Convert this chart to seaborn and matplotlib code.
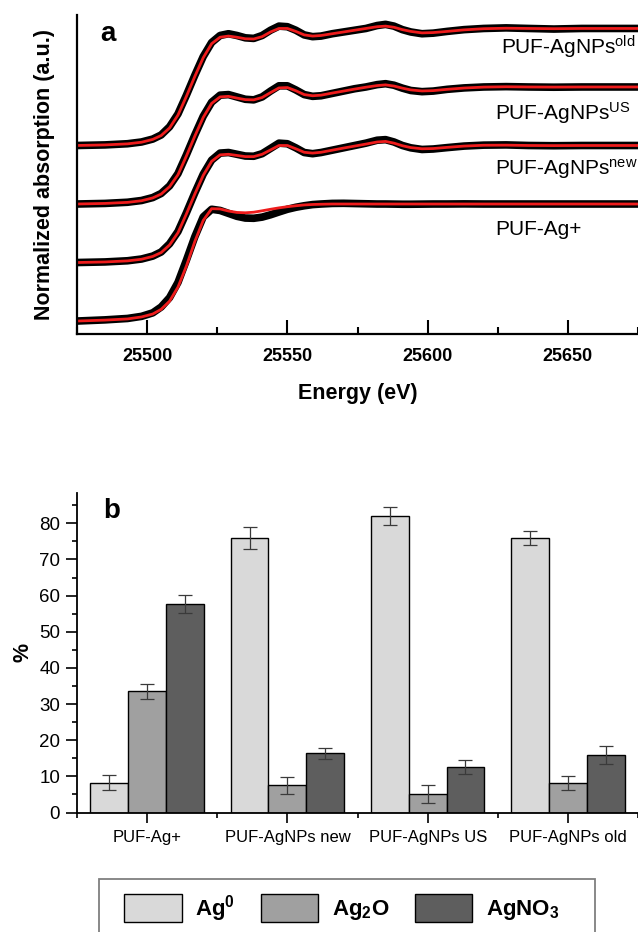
import numpy as np
import pandas as pd
import matplotlib
matplotlib.use("Agg")
import matplotlib.pyplot as plt
from matplotlib.patches import Patch, Rectangle
from matplotlib.ticker import MultipleLocator
import seaborn as sns

# ---------------- data: panel a (XANES, normalized absorption) ----------------
energy = [25475, 25485, 25493, 25498, 25502, 25505, 25508, 25511, 25514, 25517,
          25520, 25523, 25526, 25529, 25532, 25535, 25538, 25541, 25544, 25547,
          25550, 25553, 25556, 25559, 25562, 25566, 25570, 25574, 25578, 25582,
          25585, 25588, 25591, 25594, 25598, 25602, 25607, 25613, 25620, 25628,
          25636, 25645, 25655, 25665, 25675]

ag_plus_data = [0.000, 0.010, 0.022, 0.040, 0.070, 0.120, 0.200, 0.330, 0.520, 0.720,
                0.890, 0.955, 0.945, 0.920, 0.895, 0.880, 0.878, 0.888, 0.908, 0.932,
                0.955, 0.972, 0.985, 0.995, 1.000, 1.005, 1.006, 1.004, 1.002, 1.000,
                1.000, 0.999, 0.998, 0.998, 0.999, 1.000, 1.000, 1.001, 1.000, 1.000,
                1.000, 1.000, 1.000, 1.000, 1.000]
ag_plus_fit = [0.000, 0.008, 0.018, 0.035, 0.060, 0.100, 0.170, 0.290, 0.470, 0.680,
               0.860, 0.960, 0.958, 0.940, 0.928, 0.925, 0.930, 0.942, 0.955, 0.967,
               0.977, 0.985, 0.992, 0.996, 0.998, 1.000, 1.000, 1.000, 1.000, 1.000,
               1.000, 1.000, 1.000, 1.000, 1.000, 1.000, 1.000, 1.000, 1.000, 1.000,
               1.000, 1.000, 1.000, 1.000, 1.000]

new_data = [0.000, 0.005, 0.015, 0.030, 0.055, 0.090, 0.160, 0.265, 0.425, 0.595,
            0.755, 0.875, 0.935, 0.940, 0.925, 0.910, 0.908, 0.930, 0.975, 1.020,
            1.015, 0.980, 0.940, 0.930, 0.940, 0.960, 0.980, 1.000, 1.020, 1.045,
            1.050, 1.030, 1.000, 0.980, 0.966, 0.970, 0.982, 0.995, 1.003, 1.005,
            1.000, 0.998, 1.000, 1.000, 1.000]
new_fit = [0.000, 0.005, 0.014, 0.028, 0.052, 0.085, 0.150, 0.255, 0.415, 0.585,
           0.745, 0.865, 0.920, 0.925, 0.915, 0.905, 0.905, 0.925, 0.962, 1.000,
           1.000, 0.972, 0.942, 0.935, 0.942, 0.960, 0.978, 0.995, 1.012, 1.030,
           1.035, 1.020, 0.998, 0.982, 0.972, 0.974, 0.984, 0.995, 1.002, 1.003,
           1.000, 0.999, 1.000, 1.000, 1.000]

us_data = [0.000, 0.005, 0.015, 0.030, 0.055, 0.090, 0.155, 0.260, 0.420, 0.590,
           0.750, 0.870, 0.930, 0.935, 0.915, 0.895, 0.890, 0.915, 0.965, 1.010,
           1.010, 0.975, 0.935, 0.920, 0.925, 0.945, 0.965, 0.985, 1.000, 1.020,
           1.028, 1.015, 0.990, 0.970, 0.960, 0.965, 0.980, 0.992, 1.000, 1.003,
           1.000, 0.998, 1.000, 1.000, 1.000]
us_fit = [0.000, 0.005, 0.014, 0.028, 0.052, 0.085, 0.148, 0.250, 0.410, 0.580,
          0.740, 0.860, 0.915, 0.920, 0.905, 0.892, 0.890, 0.910, 0.952, 0.992,
          0.995, 0.968, 0.935, 0.925, 0.930, 0.948, 0.965, 0.982, 0.998, 1.012,
          1.018, 1.008, 0.990, 0.975, 0.966, 0.969, 0.980, 0.991, 0.999, 1.002,
          1.000, 0.999, 1.000, 1.000, 1.000]

old_data = [0.000, 0.005, 0.015, 0.030, 0.055, 0.090, 0.160, 0.270, 0.430, 0.600,
            0.760, 0.880, 0.940, 0.955, 0.940, 0.920, 0.915, 0.940, 0.985, 1.020,
            1.015, 0.985, 0.945, 0.930, 0.935, 0.955, 0.970, 0.985, 1.000, 1.025,
            1.035, 1.020, 0.990, 0.970, 0.955, 0.960, 0.975, 0.990, 1.000, 1.005,
            1.000, 0.995, 1.000, 1.000, 1.000]
old_fit = [0.000, 0.005, 0.014, 0.028, 0.052, 0.085, 0.150, 0.260, 0.420, 0.590,
           0.750, 0.870, 0.925, 0.935, 0.925, 0.912, 0.910, 0.930, 0.970, 1.000,
           1.000, 0.975, 0.945, 0.935, 0.940, 0.955, 0.970, 0.985, 1.000, 1.015,
           1.020, 1.010, 0.990, 0.975, 0.962, 0.965, 0.975, 0.988, 0.998, 1.002,
           1.000, 0.998, 1.000, 1.000, 1.000]

spectra_labels = ["PUF-Ag+", r"PUF-AgNPs$^{\mathrm{new}}$",
                  r"PUF-AgNPs$^{\mathrm{US}}$", r"PUF-AgNPs$^{\mathrm{old}}$"]
spectra_offsets = [0.0, 0.5, 1.0, 1.5]

# ---------------- data: panel b (speciation, %) ----------------
categories = ["PUF-Ag+", "PUF-AgNPs new", "PUF-AgNPs US", "PUF-AgNPs old"]
species = ["Ag0", "Ag2O", "AgNO3"]
species_labels = [r"$\mathbf{Ag^{0}}$", r"$\mathbf{Ag_{2}O}$", r"$\mathbf{AgNO_{3}}$"]
ag0_pct = [8.3, 76.0, 82.0, 75.9]
ag0_err = [2.0, 3.0, 2.5, 2.0]
ag2o_pct = [33.5, 7.5, 5.1, 8.2]
ag2o_err = [2.0, 2.4, 2.5, 2.0]
agno3_pct = [57.6, 16.4, 12.6, 15.8]
agno3_err = [2.5, 1.5, 2.0, 2.5]

# ---------------- style ----------------
sns.set_theme(style="ticks")
plt.rcParams["font.family"] = ["Liberation Sans", "DejaVu Sans"]
plt.rcParams["mathtext.fontset"] = "custom"
plt.rcParams["mathtext.rm"] = "Liberation Sans"
plt.rcParams["mathtext.it"] = "Liberation Sans:italic"
plt.rcParams["mathtext.bf"] = "Liberation Sans:bold"
for k in ["text.color", "axes.labelcolor", "xtick.color", "ytick.color", "axes.edgecolor"]:
    plt.rcParams[k] = "black"

fig = plt.figure(figsize=(6.38, 9.32), dpi=100)

# ================= panel a =================
axa = fig.add_axes([0.1207, 0.6416, 0.8793, 0.3423])
series = [(ag_plus_data, ag_plus_fit), (new_data, new_fit),
          (us_data, us_fit), (old_data, old_fit)]
for (dat, fit), off in zip(series, spectra_offsets):
    df = pd.DataFrame({"E": energy,
                       "meas": np.asarray(dat) + off,
                       "fit": np.asarray(fit) + off})
    sns.lineplot(data=df, x="E", y="meas", ax=axa, color="black", linewidth=5.5,
                 estimator=None, sort=False)
    sns.lineplot(data=df, x="E", y="fit", ax=axa, color="#ee1c1c", linewidth=2.0,
                 estimator=None, sort=False)

axa.set_xlim(25475, 25675)
axa.set_ylim(-0.111, 2.615)
axa.set_yticks([])
axa.xaxis.set_minor_locator(MultipleLocator(25))
axa.set_xticks([25500, 25550, 25600, 25650])
axa.tick_params(axis="x", which="major", direction="in", length=10, width=1.5, pad=10,
                labelsize=13)
axa.tick_params(axis="x", which="minor", direction="in", length=5, width=1.5)
for lab in axa.get_xticklabels():
    lab.set_fontweight("bold")
sns.despine(ax=axa, top=True, right=True)
for s in ["left", "bottom"]:
    axa.spines[s].set_linewidth(1.6)
axa.set_xlabel("Energy (eV)", fontsize=15.5, fontweight="bold")
axa.set_ylabel("Normalized absorption (a.u.)", fontsize=15.5, fontweight="bold")
axa.xaxis.set_label_coords(0.5, -0.155)
axa.yaxis.set_label_coords(-0.039, 0.5)
axa.text(0.041, 0.919, "a", transform=axa.transAxes, fontsize=20, fontweight="bold",
         ha="left", va="baseline")

label_pos = [(25624, 0.735), (25624, 1.248), (25624, 1.718), (25626, 2.274)]
for txt, (lx, ly) in zip(spectra_labels, label_pos):
    axa.text(lx, ly, txt, fontsize=15, ha="left", va="baseline", clip_on=False)

# ================= panel b =================
axb = fig.add_axes([0.1207, 0.1282, 0.8793, 0.3425])
rows = []
vals = {"Ag0": ag0_pct, "Ag2O": ag2o_pct, "AgNO3": agno3_pct}
errs = {"Ag0": ag0_err, "Ag2O": ag2o_err, "AgNO3": agno3_err}
for sp in species:
    for c, v in zip(categories, vals[sp]):
        rows.append({"sample": c, "species": sp, "pct": v})
dfb = pd.DataFrame(rows)
palette = {"Ag0": "#d9d9d9", "Ag2O": "#a0a0a0", "AgNO3": "#5e5e5e"}
sns.barplot(data=dfb, x="sample", y="pct", hue="species", order=categories,
            hue_order=species, palette=palette, width=0.81, edgecolor="black",
            linewidth=1.0, errorbar=None, legend=False, ax=axb, saturation=1)

for cont, sp in zip(axb.containers, species):
    xs = [b.get_x() + b.get_width() / 2 for b in cont]
    ys = [b.get_height() for b in cont]
    axb.errorbar(xs, ys, yerr=errs[sp], fmt="none", ecolor="#3a3a3a",
                 elinewidth=0.9, capsize=5, capthick=0.9, zorder=5)

axb.set_xlim(-0.5, 3.5)
axb.set_ylim(0, 88.3)
axb.yaxis.set_major_locator(MultipleLocator(10))
axb.yaxis.set_minor_locator(MultipleLocator(5))
axb.set_xticks(range(len(categories)))
axb.set_xticklabels(categories)
axb.set_xticks([-0.5, 0.5, 1.5, 2.5, 3.5], minor=True)
axb.tick_params(axis="y", which="major", direction="out", length=7.7, width=1.2,
                labelsize=13.5, pad=4.5)
axb.tick_params(axis="y", which="minor", direction="out", length=3.6, width=1.2)
axb.tick_params(axis="x", which="major", direction="out", length=7.5, width=1.2,
                labelsize=12, pad=5)
axb.tick_params(axis="x", which="minor", direction="out", length=3.6, width=1.2)
sns.despine(ax=axb, top=True, right=True)
for s in ["left", "bottom"]:
    axb.spines[s].set_linewidth(1.3)
axb.set_xlabel("")
axb.set_ylabel("%", fontsize=15.5, fontweight="bold")
axb.yaxis.set_label_coords(-0.078, 0.5)
axb.text(0.046, 0.9226, "b", transform=axb.transAxes, fontsize=20, fontweight="bold",
         ha="left", va="baseline")

# legend frame (drawn as a figure rectangle running off the bottom edge)
W, H = 638.0, 932.0
fig.add_artist(Rectangle((99 / W, -0.02), (595 - 99) / W, (H - 879) / H + 0.02,
                         transform=fig.transFigure, fill=False,
                         edgecolor="#7f7f7f", linewidth=1.3))
handles = [Patch(facecolor=palette[sp], edgecolor="black", linewidth=1.0) for sp in species]
leg = fig.legend(handles, species_labels, loc="upper left",
                 bbox_to_anchor=(124 / W, 1 - 893 / H), ncol=3, frameon=False,
                 fontsize=16, handlelength=2.6, handleheight=1.6, handletextpad=0.6,
                 columnspacing=1.15, borderpad=0, borderaxespad=0)

fig.savefig("out.png", dpi=100)
